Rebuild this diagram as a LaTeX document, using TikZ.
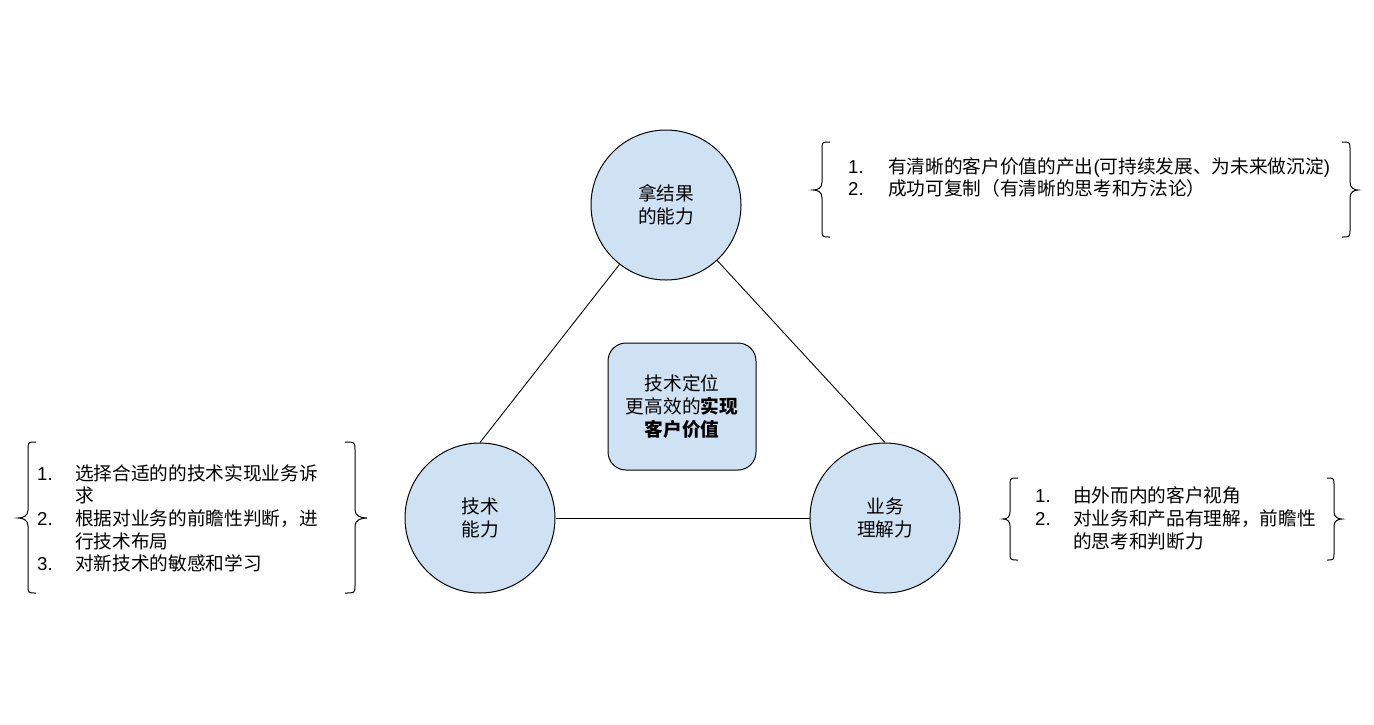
\documentclass[tikz,border=0pt]{standalone}
\usepackage{fontspec}
\setmainfont{Liberation Sans}
\newfontfamily\cjk{Noto Sans CJK SC}
\definecolor{cblue}{HTML}{CFE2F3}
\newcommand\txtsize{\fontsize{18.67}{22.6}\selectfont}
\begin{document}
\begin{tikzpicture}[x=1pt,y=-1pt,
  circ/.style={circle, draw=black, line width=1pt, fill=cblue, minimum size=150pt, inner sep=0pt, align=center, font=\cjk\txtsize},
  goalbox/.style={rectangle, rounded corners=18pt, draw=black, line width=1pt, fill=cblue, minimum width=148pt, minimum height=127pt, inner sep=0pt, align=center, font=\cjk\txtsize},
  conn/.style={draw=black, line width=0.9pt},
  bracepath/.style={draw=black, line width=1pt},
  listtext/.style={anchor=west, inner sep=0pt, font=\txtsize}
]
\useasboundingbox (0,0) rectangle (1374,724);
\fill[white] (0,0) rectangle (1374,724);

% circles
\node[circ] (top) at (666,205) {拿结果\\的能力};
\node[circ] (left) at (480,518) {技术\\能力};
\node[circ] (right) at (885,518) {业务\\理解力};

% center box
\node[goalbox] (goal) at (682,406.5) {技术定位\\更高效的\textbf{实现}\\\textbf{客户价值}};

% connectors
\draw[conn] (top) -- (left.north);
\draw[conn] (top) -- (right.north);
\draw[conn] (left) -- (right);

% top-right list
\node[listtext] (l1) at (848,180) {\begin{tabular}{@{}p{40pt}@{}l@{}}
1. & \cjk 有清晰的客户价值的产出{\rmfamily(}可持续发展、为未来做沉淀{\rmfamily)}\\
2. & \cjk 成功可复制（有清晰的思考和方法论）
\end{tabular}};
\draw[bracepath] (830,142) .. controls (822,142) .. (822,150) -- (822,182) .. controls (822,188) and (818,190) .. (813,190) .. controls (818,190) and (822,192) .. (822,198) -- (822,229) .. controls (822,237) .. (830,237);
\draw[bracepath] (1342,142) .. controls (1350,142) .. (1350,150) -- (1350,182) .. controls (1350,188) and (1354,190) .. (1358,190) .. controls (1354,190) and (1350,192) .. (1350,198) -- (1350,229) .. controls (1350,237) .. (1342,237);

% left list
\node[listtext] (l2) at (37,521) {\begin{tabular}{@{}p{38pt}@{}l@{}}
1. & \cjk 选择合适的的技术实现业务诉\\
 & \cjk 求\\
2. & \cjk 根据对业务的前瞻性判断，进\\
 & \cjk 行技术布局\\
3. & \cjk 对新技术的敏感和学习
\end{tabular}};
\draw[bracepath] (36,442) .. controls (28,442) .. (28,450) -- (28,510) .. controls (28,516) and (23,518) .. (18,518) .. controls (23,518) and (28,520) .. (28,526) -- (28,585) .. controls (28,593) .. (36,593);
\draw[bracepath] (345,442) .. controls (355,442) .. (355,450) -- (355,510) .. controls (355,516) and (361,518) .. (367,518) .. controls (361,518) and (355,520) .. (355,526) -- (355,585) .. controls (355,593) .. (345,593);

% right list
\node[listtext] (l3) at (1035,521) {\begin{tabular}{@{}p{38pt}@{}l@{}}
1. & \cjk 由外而内的客户视角\\
2. & \cjk 对业务和产品有理解，前瞻性\\
 & \cjk 的思考和判断力
\end{tabular}};
\draw[bracepath] (1018,478) .. controls (1010,478) .. (1010,486) -- (1010,512) .. controls (1010,517) and (1007,519) .. (1003,519) .. controls (1007,519) and (1010,521) .. (1010,526) -- (1010,552) .. controls (1010,560) .. (1018,560);
\draw[bracepath] (1327,478) .. controls (1334,478) .. (1334,486) -- (1334,512) .. controls (1334,517) and (1338,519) .. (1342,519) .. controls (1338,519) and (1334,521) .. (1334,526) -- (1334,552) .. controls (1334,560) .. (1327,560);
\end{tikzpicture}
\end{document}
